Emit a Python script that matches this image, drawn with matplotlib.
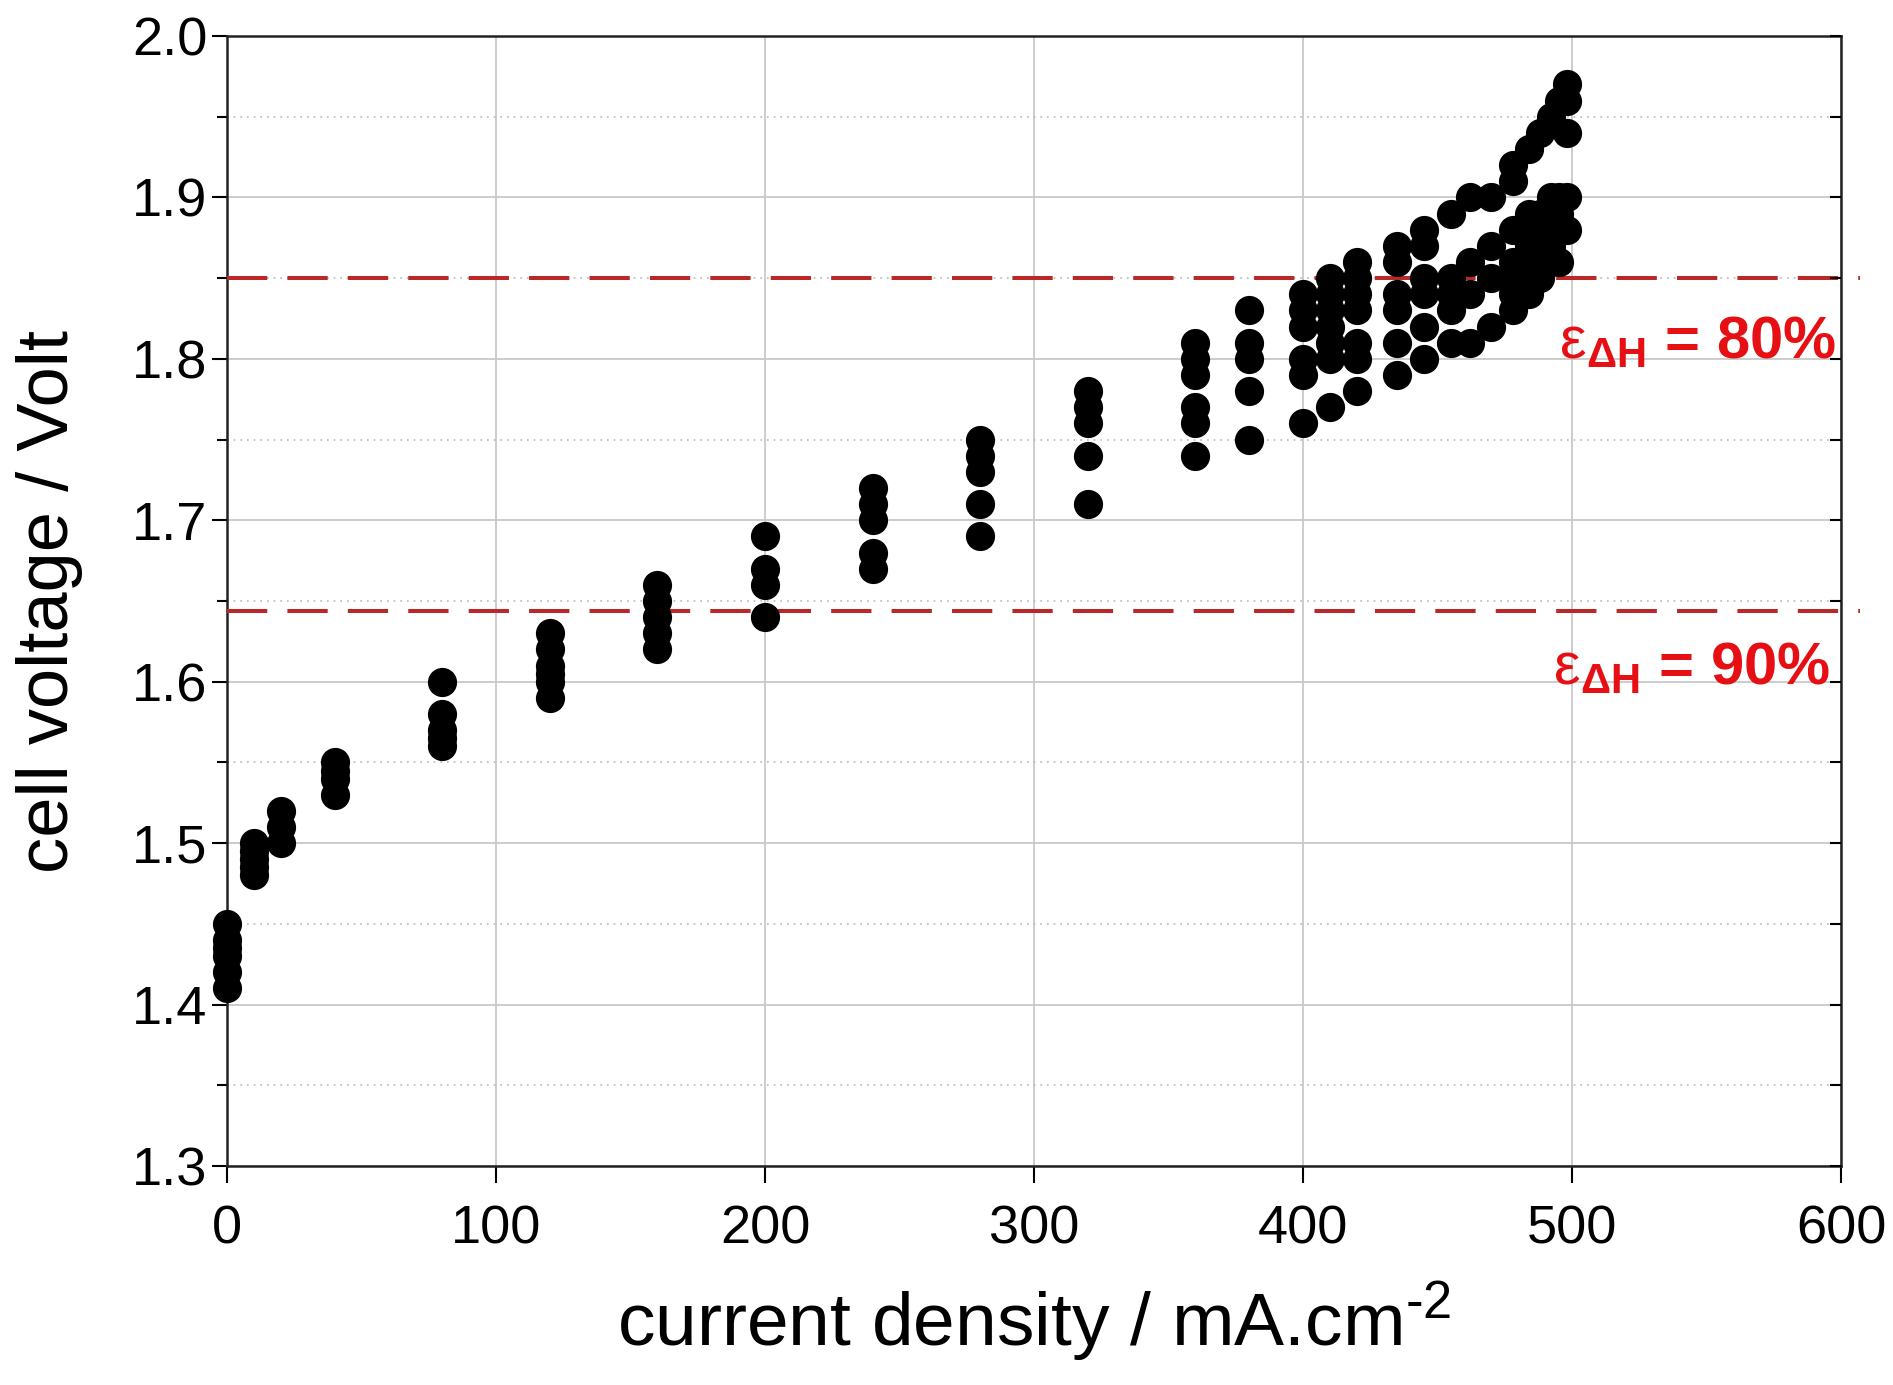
import matplotlib
matplotlib.use("Agg")
import matplotlib.pyplot as plt
from matplotlib import font_manager
from matplotlib.ticker import MultipleLocator

# current steps (mA/cm2) and the cell voltages read at each step (V)
current_steps = [0, 10, 20, 40, 80, 120, 160, 200, 240, 280, 320, 360, 380,
                 400, 410, 420, 435, 445, 455, 462, 470, 478, 484, 488, 492,
                 495, 498]
voltages = [
    [1.41, 1.42, 1.43, 1.435, 1.44, 1.45],
    [1.48, 1.485, 1.49, 1.495, 1.50],
    [1.50, 1.51, 1.52],
    [1.53, 1.54, 1.545, 1.55],
    [1.56, 1.565, 1.57, 1.58, 1.60],
    [1.59, 1.60, 1.605, 1.61, 1.62, 1.63],
    [1.62, 1.63, 1.64, 1.65, 1.66],
    [1.64, 1.66, 1.67, 1.69],
    [1.67, 1.68, 1.70, 1.71, 1.72],
    [1.69, 1.71, 1.73, 1.74, 1.75],
    [1.71, 1.74, 1.76, 1.77, 1.78],
    [1.74, 1.76, 1.77, 1.79, 1.80, 1.81],
    [1.75, 1.78, 1.80, 1.81, 1.83],
    [1.76, 1.79, 1.80, 1.82, 1.83, 1.84],
    [1.77, 1.80, 1.81, 1.82, 1.83, 1.84, 1.85],
    [1.78, 1.80, 1.81, 1.83, 1.84, 1.85, 1.86],
    [1.79, 1.81, 1.83, 1.84, 1.86, 1.87],
    [1.80, 1.82, 1.84, 1.85, 1.87, 1.88],
    [1.81, 1.83, 1.84, 1.85, 1.89],
    [1.81, 1.84, 1.86, 1.90],
    [1.82, 1.85, 1.87, 1.90],
    [1.83, 1.84, 1.85, 1.86, 1.88, 1.91, 1.92],
    [1.84, 1.85, 1.86, 1.87, 1.89, 1.93],
    [1.85, 1.86, 1.88, 1.89, 1.94],
    [1.86, 1.87, 1.88, 1.90, 1.95],
    [1.86, 1.88, 1.89, 1.90, 1.96],
    [1.88, 1.90, 1.94, 1.96, 1.97],
]

# efficiency limits (V) and their labels
eff_levels = [1.85, 1.644]
eff_labels = [r"$\mathrm{ε}_{\mathbf{ΔH}}$ = 80%", r"$\mathrm{ε}_{\mathbf{ΔH}}$ = 90%"]
eff_label_pos = [(598, 1.80), (596, 1.598)]

x_ticks = [0, 100, 200, 300, 400, 500, 600]
y_ticks = [1.3, 1.4, 1.5, 1.6, 1.7, 1.8, 1.9, 2.0]

names = {f.name for f in font_manager.fontManager.ttflist}
base_font = "Liberation Sans" if "Liberation Sans" in names else "DejaVu Sans"
plt.rcParams["font.family"] = [base_font, "DejaVu Sans"]
plt.rcParams["mathtext.fontset"] = "custom"
plt.rcParams["mathtext.rm"] = base_font
plt.rcParams["mathtext.it"] = base_font + ":italic"
plt.rcParams["mathtext.bf"] = base_font + ":bold"

fig = plt.figure(figsize=(18.93, 13.85), dpi=100)
ax = fig.add_axes([0.1199, 0.1581, 0.8527, 0.8159])

xs = []
ys = []
for j, vs in zip(current_steps, voltages):
    for v in vs:
        xs.append(j)
        ys.append(v)
ax.plot(xs, ys, linestyle="None", marker="o", markersize=20,
        markerfacecolor="black", markeredgecolor="black", zorder=4,
        clip_on=False)

for level in eff_levels:
    ax.plot([0, 607], [level, level], color="#bb2828", lw=2.9,
            dashes=(10, 5), zorder=3, clip_on=False)

for lab, (lx, ly) in zip(eff_labels, eff_label_pos):
    ax.text(lx, ly, lab, color="#e50f14", fontsize=43, fontweight="bold",
            ha="right", va="baseline", zorder=5)

ax.set_xlim(0, 600)
ax.set_ylim(1.3, 2.0)
ax.set_xticks(x_ticks)
ax.set_yticks(y_ticks)
ax.set_xticklabels([str(t) for t in x_ticks], fontsize=39)
ax.set_yticklabels([f"{t:.1f}" for t in y_ticks], fontsize=39)
ax.yaxis.set_minor_locator(MultipleLocator(0.05))

ax.grid(True, which="major", color="#c8c8c8", lw=1.3, linestyle="-")
ax.grid(True, which="minor", axis="y", color="#b8b8b8", lw=1.2,
        linestyle=(0, (1, 3)))
ax.set_axisbelow(True)

ax.tick_params(axis="y", which="major", direction="out", length=11,
               width=1.5, pad=3, left=True, right=False)
ax.tick_params(axis="y", which="minor", direction="out", length=7,
               width=1.5, left=True, right=False)
ax.tick_params(axis="x", which="major", direction="out", length=12,
               width=1.5, pad=16, top=False)
ax.tick_params(axis="x", which="minor", bottom=False, top=False)

# inward minor ticks on the right spine
ax_r = ax.twinx()
ax_r.set_ylim(ax.get_ylim())
ax_r.yaxis.set_minor_locator(MultipleLocator(0.05))
ax_r.set_yticks([])
ax_r.tick_params(axis="y", which="minor", direction="in", length=8,
                 width=1.5, labelright=False)
for sp in ax_r.spines.values():
    sp.set_visible(False)

for sp in ax.spines.values():
    sp.set_color("#222222")
    sp.set_linewidth(1.8)

ax.set_xlabel(r"current density / mA.cm$^{\text{-2}}$", fontsize=54)
ax.xaxis.set_label_coords(0.5, -0.10)
ax.set_ylabel("cell voltage / Volt", fontsize=52)
ax.yaxis.set_label_coords(-0.089, 0.5)

fig.savefig("out.png", dpi=100)
